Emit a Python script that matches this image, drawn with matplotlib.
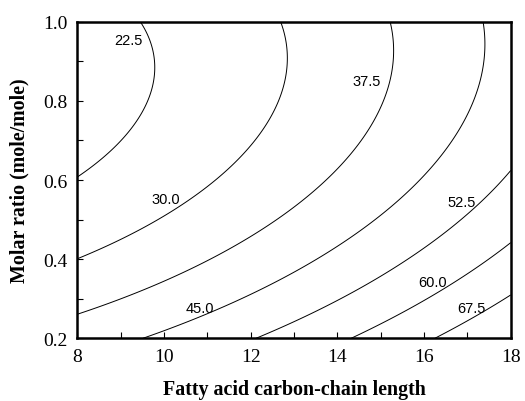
import numpy as np
import matplotlib.pyplot as plt
from matplotlib.ticker import MultipleLocator

# contour levels shown on the chart
levels = [22.5, 30.0, 37.5, 45.0, 52.5, 60.0, 67.5]

# points (chain length, molar ratio)
c225_x = [9.37, 9.77, 9.65, 8.76, 8.0]
c225_y = [1.0, 0.88, 0.805, 0.670, 0.61]
c300_x = [12.69, 12.88, 12.68, 11.83, 10.53, 8.0]
c300_y = [1.0, 0.906, 0.805, 0.653, 0.527, 0.402]
c375_x = [15.2, 15.32, 14.97, 14.05, 12.9, 10.53, 8.0]
c375_y = [1.0, 0.92, 0.805, 0.636, 0.518, 0.379, 0.266]
c450_x = [17.34, 17.41, 17.17, 16.36, 15.2, 12.9, 11.14, 9.65]
c450_y = [1.0, 0.93, 0.805, 0.636, 0.518, 0.358, 0.266, 0.203]
c525_x = [17.97, 17.2, 15.2, 12.9, 12.29]
c525_y = [0.607, 0.552, 0.40, 0.244, 0.20]
c600_x = [17.97, 16.36, 14.47]
c600_y = [0.434, 0.333, 0.203]
c675_x = [17.97, 16.37]
c675_y = [0.301, 0.203]

traces = [(c225_x, c225_y), (c300_x, c300_y), (c375_x, c375_y), (c450_x, c450_y),
          (c525_x, c525_y), (c600_x, c600_y), (c675_x, c675_y)]

# fit a second order response surface to the traced points
px, py, pz = [], [], []
for lev, (tx, ty) in zip(levels, traces):
    px += tx
    py += ty
    pz += [lev] * len(tx)
px, py, pz = np.array(px), np.array(py), np.array(pz)

def terms(x, y):
    return np.stack([np.ones_like(x), x, y, x * x, y * y, x * y], axis=-1)

coef, *_ = np.linalg.lstsq(terms(px, py), pz, rcond=None)

X, Y = np.meshgrid(np.linspace(8, 18, 300), np.linspace(0.2, 1.0, 300))
Z = terms(X, Y) @ coef

fig = plt.figure(figsize=(5.25, 4.02), dpi=100)
ax = fig.add_axes([0.1472, 0.156, 0.8256, 0.7875])
ax.contour(X, Y, Z, levels=levels, colors="black", linewidths=0.7)

# labels next to the lines
lab_x = [9.17, 10.05, 14.67, 10.83, 16.86, 16.2, 17.09]
lab_y = [0.954, 0.552, 0.850, 0.276, 0.544, 0.342, 0.276]
for lev, lx, ly in zip(levels, lab_x, lab_y):
    ax.text(lx, ly, "%.1f" % lev, ha="center", va="center", fontsize=10.5,
            family="Liberation Sans")

ax.set_xlim(8, 18)
ax.set_ylim(0.2, 1.0)
ax.xaxis.set_major_locator(MultipleLocator(2))
ax.xaxis.set_minor_locator(MultipleLocator(1))
ax.yaxis.set_major_locator(MultipleLocator(0.2))
ax.yaxis.set_minor_locator(MultipleLocator(0.1))
ax.yaxis.set_major_formatter(plt.FormatStrFormatter("%.1f"))
ax.tick_params(which="both", direction="in", length=4, width=0.8)
ax.tick_params(which="major", labelsize=14, pad=7)
for lbl in ax.get_xticklabels() + ax.get_yticklabels():
    lbl.set_family("Liberation Serif")
for s in ax.spines.values():
    s.set_linewidth(1.8)

ax.set_xlabel("Fatty acid carbon-chain length", family="Liberation Serif",
              fontweight="bold", fontsize=14.4, labelpad=10)
ax.set_ylabel("Molar ratio (mole/mole)", family="Liberation Serif",
              fontweight="bold", fontsize=14.4, labelpad=10)

fig.savefig("out.png", dpi=100)
